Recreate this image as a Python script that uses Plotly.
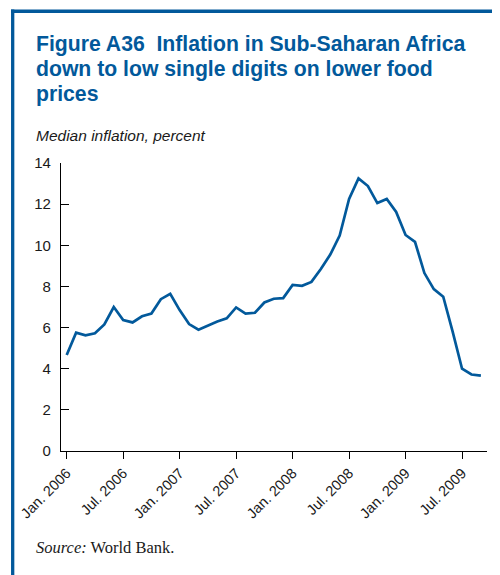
import plotly.graph_objects as go

# ---- data ----
months = [
    "2006-01", "2006-02", "2006-03", "2006-04", "2006-05", "2006-06",
    "2006-07", "2006-08", "2006-09", "2006-10", "2006-11", "2006-12",
    "2007-01", "2007-02", "2007-03", "2007-04", "2007-05", "2007-06",
    "2007-07", "2007-08", "2007-09", "2007-10", "2007-11", "2007-12",
    "2008-01", "2008-02", "2008-03", "2008-04", "2008-05", "2008-06",
    "2008-07", "2008-08", "2008-09", "2008-10", "2008-11", "2008-12",
    "2009-01", "2009-02", "2009-03", "2009-04", "2009-05", "2009-06",
    "2009-07", "2009-08", "2009-09",
]
median_inflation = [
    4.67, 5.75, 5.62, 5.72, 6.15, 7.00, 6.37, 6.25, 6.55, 6.68, 7.38, 7.64,
    6.85, 6.17, 5.90, 6.10, 6.30, 6.45, 6.98, 6.68, 6.72, 7.22, 7.40, 7.43,
    8.07, 8.03, 8.22, 8.85, 9.55, 10.47, 12.25, 13.25, 12.88, 12.05, 12.25, 11.62,
    10.50, 10.17, 8.65, 7.87, 7.50, 5.80, 4.00, 3.72, 3.66,
]
tick_labels = ["Jan. 2006", "Jul. 2006", "Jan. 2007", "Jul. 2007",
               "Jan. 2008", "Jul. 2008", "Jan. 2009", "Jul. 2009"]
y_ticks = [0, 2, 4, 6, 8, 10, 12, 14]

month_index = list(range(len(months)))
tick_index = [months.index(m) for m in
              ["2006-01", "2006-07", "2007-01", "2007-07",
               "2008-01", "2008-07", "2009-01", "2009-07"]]

BLUE = "#02599b"
W, H = 500, 575
D = 8  # page body margin offset
L, R = 61 - D, 487.3 - D
T, B = 163.3 - D, 451.0 - D


def px(x):
    return (x - D - L) / (R - L)


def py(y):
    return (B - (y - D)) / (B - T)


fig = go.Figure()
fig.add_trace(go.Scatter(
    x=month_index, y=median_inflation, mode="lines",
    line=dict(color=BLUE, width=2.7), hoverinfo="skip", showlegend=False,
))

fig.update_layout(
    width=W, height=H,
    margin=dict(l=L, r=W - R, t=T, b=H - B),
    paper_bgcolor="white", plot_bgcolor="white",
    font=dict(family="Liberation Sans, Arial, sans-serif", color="#1a1a1a", size=14.5),
    showlegend=False,
)
fig.update_xaxes(
    range=[-0.605, 44.65], tickmode="array", tickvals=tick_index, ticktext=tick_labels,
    tickangle=-45, ticks="outside", ticklen=7, tickwidth=1, tickcolor="black",
    showline=True, linecolor="black", linewidth=1.2, showgrid=False, zeroline=False,
    tickfont=dict(size=14.5), automargin=False,
)
fig.update_yaxes(
    range=[0, 14], tickmode="array", tickvals=y_ticks,
    ticks="inside", ticklen=8, tickwidth=1, tickcolor="black",
    showline=True, linecolor="black", linewidth=1.2, showgrid=False, zeroline=False,
    tickfont=dict(size=15), ticklabelstandoff=6, automargin=False,
)

# frame (left and top blue rules)
fig.add_shape(type="rect", xref="paper", yref="paper",
              x0=px(11), x1=px(14.3), y0=py(600), y1=py(10),
              fillcolor=BLUE, line=dict(width=0), layer="above")
fig.add_shape(type="rect", xref="paper", yref="paper",
              x0=px(11), x1=px(520), y0=py(13.5), y1=py(10),
              fillcolor=BLUE, line=dict(width=0), layer="above")

title_lines = ["Figure A36  Inflation in Sub-Saharan Africa",
               "down to low single digits on lower food",
               "prices"]
title_centers = [44.3, 69.3, 94.3]
for txt, yc in zip(title_lines, title_centers):
    fig.add_annotation(text="<b>" + txt.replace("  ", "&nbsp; ") + "</b>",
                       xref="paper", yref="paper", x=px(34), y=py(yc),
                       xanchor="left", yanchor="middle", showarrow=False,
                       font=dict(size=21.2, color=BLUE,
                                 family="Liberation Sans, Arial, sans-serif"))

fig.add_annotation(text="<i>Median inflation, percent</i>",
                   xref="paper", yref="paper", x=px(34), y=py(135.6),
                   xanchor="left", yanchor="middle", showarrow=False,
                   font=dict(size=15.5, color="#1a1a1a"))

fig.add_annotation(text="<i>Source:</i> World Bank.",
                   xref="paper", yref="paper", x=px(34), y=py(547),
                   xanchor="left", yanchor="middle", showarrow=False,
                   font=dict(size=16.5, color="#1a1a1a",
                             family="Liberation Serif, Times New Roman, serif"))

fig.write_html("out.html")
